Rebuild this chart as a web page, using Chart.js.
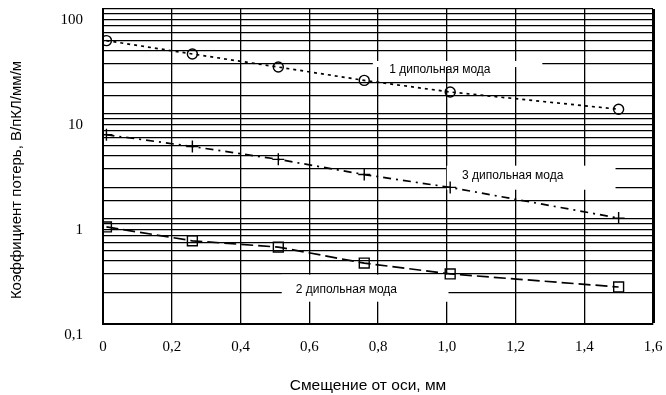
<!DOCTYPE html>
<html>
<head>
<meta charset="utf-8">
<script src="https://cdn.jsdelivr.net/npm/chart.js@4"></script>
<style>
  html, body { margin: 0; padding: 0; background: #fff; }
</style>
</head>
<body>
<canvas id="grafico" width="666" height="395"></canvas>
<script>
// ================= ДАННЫЕ =================
const smeshenie = [0.01, 0.26, 0.51, 0.76, 1.01, 1.5];
const moda1 = [50, 37.3, 28, 20.9, 16.2, 11.1];
const moda3 = [6.35, 4.9, 3.7, 2.65, 2.0, 1.02];
const moda2 = [0.84, 0.62, 0.54, 0.38, 0.30, 0.225];

const modaNames = ['1 дипольная мода', '3 дипольная мода', '2 дипольная мода'];
const xTickLabels = ['0', '0,2', '0,4', '0,6', '0,8', '1,0', '1,2', '1,4', '1,6'];
const yTickValues = [0.1, 1, 10, 100];
const yTickLabels = ['0,1', '1', '10', '100'];

const xTitle = 'Смещение от оси, мм';
const yTitle = 'Коэффициент потерь, В/пКЛ/мм/м';

function toPoints(vals) {
  return smeshenie.map((x, i) => ({ x: x, y: vals[i] }));
}

// ================= ПОДПИСИ (плашки) =================
const podpisiPlugin = {
  id: 'podpisi',
  beforeDatasetsDraw(chart) {
    const c = chart.ctx, xs = chart.scales.x, ys = chart.scales.y;
    // white boxes that hide the grid under the labels
    const boxes = [
      [0.785, 1.278, 32, 28],
      [1.0, 1.491, 3.22, 1.9],
      [0.52, 1.005, 0.295, 0.163]
    ];
    c.save();
    c.fillStyle = '#fff';
    boxes.forEach(b => {
      const x1 = xs.getPixelForValue(b[0]), x2 = xs.getPixelForValue(b[1]);
      const y1 = ys.getPixelForValue(b[2]), y2 = ys.getPixelForValue(b[3]);
      c.fillRect(x1, y1, x2 - x1, y2 - y1);
    });
    const pos = [[0.98, 26.2], [1.192, 2.58], [0.708, 0.213]];
    c.fillStyle = '#000';
    c.font = '12px "Liberation Sans", Arial, sans-serif';
    c.textAlign = 'center';
    c.textBaseline = 'middle';
    modaNames.forEach((t, i) => {
      c.fillText(t, xs.getPixelForValue(pos[i][0]), ys.getPixelForValue(pos[i][1]));
    });
    c.restore();
  },
  afterDraw(chart) {
    const c = chart.ctx;
    c.save();
    c.fillStyle = '#000';
    c.textAlign = 'center';
    c.textBaseline = 'middle';
    c.font = '15.5px "Liberation Sans", Arial, sans-serif';
    c.fillText(xTitle, 368, 386);
    c.font = '15px "Liberation Sans", Arial, sans-serif';
    c.translate(17, 180);
    c.rotate(-Math.PI / 2);
    c.fillText(yTitle, 0, 0);
    c.restore();
  }
};

// ================= ГРАФИК =================
const ctx = document.getElementById('grafico');

new Chart(ctx, {
  type: 'line',
  data: {
    datasets: [
      {
        label: modaNames[0],
        data: toPoints(moda1),
        borderColor: '#000',
        borderWidth: 1.7,
        borderDash: [3, 4],
        pointStyle: 'circle',
        pointRadius: 5,
        pointBorderWidth: 1.4,
        pointBorderColor: '#000',
        pointBackgroundColor: 'rgba(0,0,0,0)'
      },
      {
        label: modaNames[1],
        data: toPoints(moda3),
        borderColor: '#000',
        borderWidth: 1.7,
        borderDash: [8, 5, 2, 5],
        pointStyle: 'cross',
        pointRadius: 6,
        pointBorderWidth: 1.4,
        pointBorderColor: '#000',
        pointBackgroundColor: 'rgba(0,0,0,0)'
      },
      {
        label: modaNames[2],
        data: toPoints(moda2),
        borderColor: '#000',
        borderWidth: 1.7,
        borderDash: [12, 5],
        pointStyle: 'rect',
        pointRadius: 7,
        pointBorderWidth: 1.4,
        pointBorderColor: '#000',
        pointBackgroundColor: 'rgba(0,0,0,0)'
      }
    ]
  },
  options: {
    responsive: false,
    animation: false,
    layout: { padding: { top: 9, right: 13, left: 0, bottom: 0 } },
    plugins: {
      legend: { display: false },
      tooltip: { enabled: false }
    },
    scales: {
      x: {
        type: 'linear',
        min: 0,
        max: 1.6,
        afterFit: s => { s.height = 71; s.paddingLeft = 0; s.paddingRight = 0; },
        ticks: {
          stepSize: 0.2,
          padding: 14,
          color: '#000',
          font: { family: '"Liberation Serif", "Times New Roman", serif', size: 15 },
          callback: (v, i) => xTickLabels[i]
        },
        grid: {
          color: '#000',
          drawTicks: false,
          lineWidth: c => (c.index === xTickLabels.length - 1 ? 3 : 1.3)
        },
        border: { color: '#000', width: 2 }
      },
      y: {
        type: 'logarithmic',
        min: 0.1,
        max: 100,
        afterFit: s => { s.width = 103; s.paddingTop = 0; s.paddingBottom = 0; },
        ticks: {
          autoSkip: false,
          padding: 20,
          labelOffset: 11,
          color: '#000',
          font: { family: '"Liberation Serif", "Times New Roman", serif', size: 15 },
          callback: v => {
            const k = yTickValues.findIndex(t => Math.abs(t - v) < t * 1e-6);
            return k >= 0 ? yTickLabels[k] : '';
          }
        },
        grid: {
          color: '#000',
          drawTicks: false,
          lineWidth: 1.3
        },
        border: { color: '#000', width: 2 }
      }
    }
  },
  plugins: [podpisiPlugin]
});
</script>
</body>
</html>
